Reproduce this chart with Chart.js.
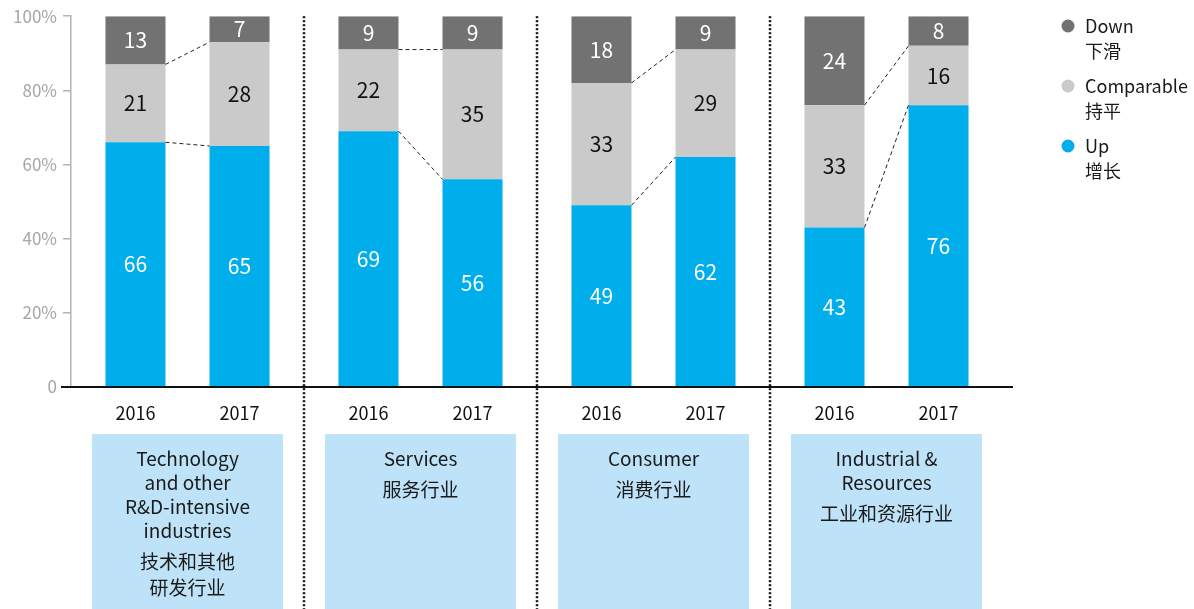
<!DOCTYPE html>
<html lang="zh">
<head>
  <meta charset="UTF-8" />
  <title>Stacked bars 2016 / 2017</title>
  <script src="https://cdn.jsdelivr.net/npm/chart.js"></script>
  <style>
    html, body { margin: 0; padding: 0; background: #fff; }
    #wrap { width: 1194px; height: 609px; }
  </style>
</head>
<body>
  <div id="wrap"><canvas id="chart" width="1194" height="609"></canvas></div>

  <script>
    const industries = ['Technology', 'Services', 'Consumer', 'Industrial & Resources'];
    const industryEn = [['Technology', 'and other', 'R&D-intensive', 'industries'], ['Services'], ['Consumer'], ['Industrial &', 'Resources']];
    const industryCn = [['技术和其他', '研发行业'], ['服务行业'], ['消费行业'], ['工业和资源行业']];
    const years = ['2016', '2017'];

    const up2016 = [66, 69, 49, 43];
    const comparable2016 = [21, 22, 33, 33];
    const down2016 = [13, 9, 18, 24];
    const up2017 = [65, 56, 62, 76];
    const comparable2017 = [28, 35, 29, 16];
    const down2017 = [7, 9, 9, 8];

    const seriesEn = ['Down', 'Comparable', 'Up'];
    const seriesCn = ['下滑', '持平', '增长'];
    const yTicks = [0, 20, 40, 60, 80, 100];

    const FONT = '"Noto Sans CJK SC", "Noto Sans", sans-serif';
    const colors = { Up: '#00aeeb', Comparable: '#c9cac9', Down: '#727272' };
    const labelColors = { Up: '#ffffff', Comparable: '#111111', Down: '#ffffff' };

    const datasets = [
      { label: 'Up', data: up2016, stack: years[0] },
      { label: 'Comparable', data: comparable2016, stack: years[0] },
      { label: 'Down', data: down2016, stack: years[0] },
      { label: 'Up', data: up2017, stack: years[1] },
      { label: 'Comparable', data: comparable2017, stack: years[1] },
      { label: 'Down', data: down2017, stack: years[1] }
    ].map(d => Object.assign(d, { backgroundColor: colors[d.label], borderWidth: 0 }));

    const decorations = {
      id: 'decorations',
      afterDatasetsDraw(chart) {
        const ctx = chart.ctx;
        const area = chart.chartArea;
        const xs = chart.scales.x;
        const H = chart.height;

        // dashed connectors between 2016 and 2017 segment tops
        ctx.save();
        ctx.strokeStyle = '#222';
        ctx.lineWidth = 1;
        ctx.setLineDash([4, 3]);
        [[0, 3], [1, 4]].forEach(([a, b]) => {
          const ma = chart.getDatasetMeta(a).data;
          const mb = chart.getDatasetMeta(b).data;
          ma.forEach((el, i) => {
            const other = mb[i];
            ctx.beginPath();
            ctx.moveTo(el.x + el.width / 2, el.y);
            ctx.lineTo(other.x - other.width / 2, other.y);
            ctx.stroke();
          });
        });
        ctx.restore();

        // value labels
        ctx.save();
        ctx.font = '21px ' + FONT;
        ctx.textAlign = 'center';
        ctx.textBaseline = 'middle';
        chart.data.datasets.forEach((ds, di) => {
          chart.getDatasetMeta(di).data.forEach((el, i) => {
            ctx.fillStyle = labelColors[ds.label];
            ctx.fillText(ds.data[i], el.x, (el.y + el.base) / 2);
          });
        });
        ctx.restore();

        // x baseline
        ctx.save();
        ctx.strokeStyle = '#111';
        ctx.lineWidth = 2;
        ctx.beginPath();
        ctx.moveTo(area.left - 10, area.bottom);
        ctx.lineTo(1013, area.bottom);
        ctx.stroke();
        ctx.restore();

        // year labels
        ctx.save();
        ctx.font = '18px ' + FONT;
        ctx.fillStyle = '#111';
        ctx.textAlign = 'center';
        ctx.textBaseline = 'middle';
        [0, 3].forEach((di, yi) => {
          chart.getDatasetMeta(di).data.forEach(el => {
            ctx.fillText(years[yi], el.x, area.bottom + 26);
          });
        });
        ctx.restore();

        // dotted separators
        ctx.save();
        ctx.strokeStyle = '#111';
        ctx.lineWidth = 2.5;
        ctx.setLineDash([2, 2]);
        for (let i = 0; i < industries.length - 1; i++) {
          const x = Math.round((xs.getPixelForValue(i) + xs.getPixelForValue(i + 1)) / 2);
          ctx.beginPath();
          ctx.moveTo(x, area.top);
          ctx.lineTo(x, H);
          ctx.stroke();
        }
        ctx.restore();

        // industry boxes
        ctx.save();
        industries.forEach((name, i) => {
          const cx = xs.getPixelForValue(i);
          const top = area.bottom + 47;
          ctx.fillStyle = '#bee3f8';
          ctx.fillRect(cx - 95.5, top, 191, H - top);
          ctx.fillStyle = '#1a1a1a';
          ctx.textAlign = 'center';
          ctx.textBaseline = 'middle';
          ctx.font = '19px ' + FONT;
          let y = top + 25;
          industryEn[i].forEach((line, k) => {
            if (k > 0) y += 24;
            ctx.fillText(line, cx, y);
          });
          y += 31;
          industryCn[i].forEach((line, k) => {
            if (k > 0) y += 26;
            ctx.fillText(line, cx, y);
          });
        });
        ctx.restore();

        // legend
        ctx.save();
        ctx.font = '18px ' + FONT;
        ctx.textBaseline = 'middle';
        ctx.textAlign = 'left';
        seriesEn.forEach((s, k) => {
          const y = 26 + k * 60;
          ctx.fillStyle = colors[s];
          ctx.beginPath();
          ctx.arc(1068, y, 6.5, 0, Math.PI * 2);
          ctx.fill();
          ctx.fillStyle = '#1a1a1a';
          ctx.fillText(s, 1085, y);
          ctx.fillText(seriesCn[k], 1085, y + 25);
        });
        ctx.restore();
      }
    };

    new Chart(document.getElementById('chart').getContext('2d'), {
      type: 'bar',
      data: { labels: industries, datasets },
      options: {
        responsive: false,
        animation: false,
        layout: { padding: { top: 16, right: 191, bottom: 222, left: 0 } },
        datasets: { bar: { categoryPercentage: 0.893, barPercentage: 0.577 } },
        plugins: { legend: { display: false }, tooltip: { enabled: false } },
        scales: {
          x: { stacked: true, display: false },
          y: {
            stacked: true,
            min: 0,
            max: 100,
            afterBuildTicks: s => { s.ticks = yTicks.map(v => ({ value: v })); },
            afterFit: s => { s.width = 71; },
            grid: { drawOnChartArea: false, drawTicks: true, tickLength: 8, color: '#b3b3b3', lineWidth: 1.5 },
            border: { display: true, color: '#b3b3b3', width: 1.5 },
            ticks: {
              padding: 6,
              color: '#a6a6a6',
              font: { family: FONT, size: 17 },
              callback: v => v === 0 ? '0' : v + '%'
            }
          }
        }
      },
      plugins: [decorations]
    });
  </script>
</body>
</html>
